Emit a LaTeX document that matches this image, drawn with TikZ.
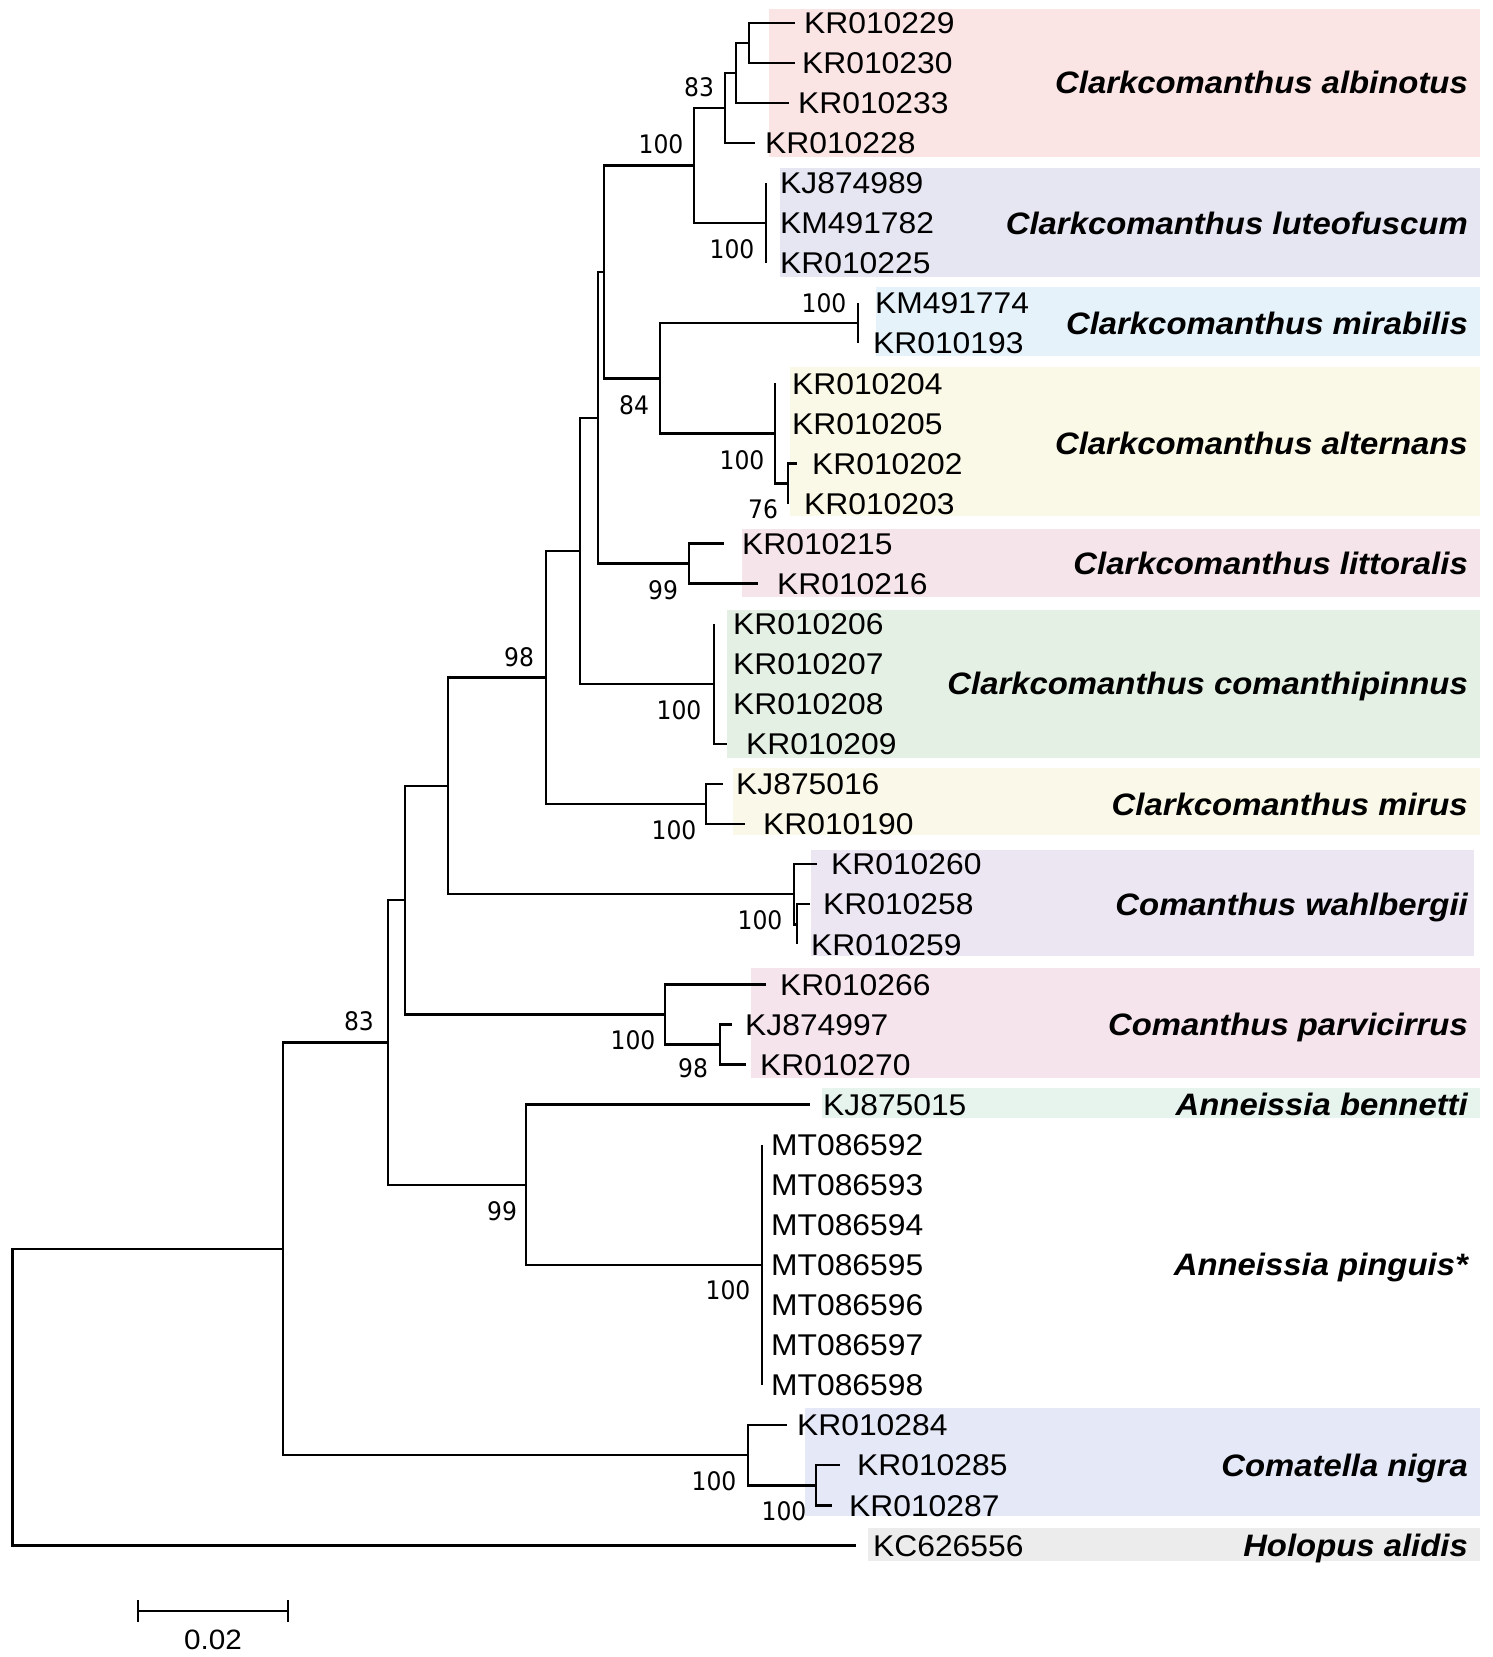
\documentclass[tikz,border=0pt]{standalone}
\usepackage{fontspec}
\setmainfont{Liberation Sans}
\newfontfamily\leaffont[FakeStretch=1.06]{Liberation Sans}
\newfontfamily\supfont[FakeStretch=0.92]{DejaVu Sans}
\definecolor{bgA}{RGB}{250,228,228}
\definecolor{bgB}{RGB}{229,230,242}
\definecolor{bgC}{RGB}{229,242,250}
\definecolor{bgD}{RGB}{250,248,230}
\definecolor{bgE}{RGB}{245,228,234}
\definecolor{bgF}{RGB}{229,240,229}
\definecolor{bgG}{RGB}{250,248,232}
\definecolor{bgH}{RGB}{236,230,243}
\definecolor{bgI}{RGB}{246,228,237}
\definecolor{bgJ}{RGB}{230,244,237}
\definecolor{bgK}{RGB}{229,232,246}
\definecolor{bgL}{RGB}{236,236,236}
\tikzset{
  br/.style={line width=2.4pt, line join=miter},
  leaf/.style={anchor=base west, inner sep=0pt, font=\leaffont\fontsize{30}{30}\selectfont},
  sp/.style={anchor=base east, inner sep=0pt, font=\leaffont\bfseries\itshape\fontsize{31}{31}\selectfont},
  sup/.style={inner sep=0pt, font=\supfont\fontsize{25.5}{25.5}\selectfont},
}
\begin{document}
\begin{tikzpicture}[x=1pt,y=-1pt]
\useasboundingbox[fill=white] (0,0) rectangle (1493,1657);
% background boxes
\fill[bgA] (769,9) rectangle (1480,157);
\fill[bgB] (780,168) rectangle (1480,277);
\fill[bgC] (876,287) rectangle (1480,356);
\fill[bgD] (790,367) rectangle (1480,516);
\fill[bgE] (742,529) rectangle (1480,597);
\fill[bgF] (727,610) rectangle (1480,758);
\fill[bgG] (733,768) rectangle (1480,835);
\fill[bgH] (811,850) rectangle (1474,956);
\fill[bgI] (751,968) rectangle (1480,1078);
\fill[bgJ] (822,1088) rectangle (1480,1118);
\fill[bgK] (805,1408) rectangle (1480,1516);
\fill[bgL] (868,1528) rectangle (1480,1561);
% leaves
\foreach \r/\tx/\lx/\nm in {
 0/795/804/KR010229, 1/795/802/KR010230, 2/789/798/KR010233, 3/755/765/KR010228,
 4/766/780/KJ874989, 5/766/780/KM491782, 6/766/780/KR010225,
 7/858/875/KM491774, 8/858/873/KR010193,
 9/775/792/KR010204, 10/775/792/KR010205, 11/797/812/KR010202, 12/788/804/KR010203,
 13/724/742/KR010215, 14/758/777/KR010216,
 15/714/733/KR010206, 16/714/733/KR010207, 17/714/733/KR010208, 18/727/746/KR010209,
 19/723/736/KJ875016, 20/745/763/KR010190,
 21/817/831/KR010260, 22/810/823/KR010258, 23/797/811/KR010259,
 24/766/780/KR010266, 25/732/745/KJ874997, 26/746/760/KR010270,
 27/810/823/KJ875015,
 28/762/771/MT086592, 29/762/771/MT086593, 30/762/771/MT086594, 31/762/771/MT086595,
 32/762/771/MT086596, 33/762/771/MT086597, 34/762/771/MT086598,
 35/787/797/KR010284, 36/840/857/KR010285, 37/832/849/KR010287,
 38/856/873/KC626556}
{
  \coordinate (t\r) at (\tx, {22.7+40.07*\r});
  \node[leaf] (l\r) at (\lx, {22.7+40.07*\r+10.7}) {\nm};
}
% internal nodes
\coordinate (M)  at (749, 42.7);
\coordinate (L)  at (736, 72.8);
\coordinate (K)  at (725, 107.9);
\coordinate (Lu) at (766, 223.1);
\coordinate (J)  at (694, 165.5);
\coordinate (Mi) at (858, 323.2);
\coordinate (S76) at (788, 483.5);
\coordinate (Al) at (775, 433.4);
\coordinate (O)  at (660, 378.3);
\coordinate (N)  at (604, 271.9);
\coordinate (Li) at (689, 563.6);
\coordinate (P)  at (598, 417.8);
\coordinate (Co) at (714, 683.9);
\coordinate (G)  at (580, 550.8);
\coordinate (Mu) at (706, 804.0);
\coordinate (F)  at (546, 677.4);
\coordinate (Ws) at (797, 924.3);
\coordinate (W)  at (794, 894.2);
\coordinate (E)  at (448, 785.8);
\coordinate (Ps) at (720, 1044.5);
\coordinate (Pa) at (665, 1014.4);
\coordinate (C)  at (405, 900.1);
\coordinate (Pi) at (762, 1264.9);
\coordinate (D)  at (526, 1184.7);
\coordinate (B)  at (388, 1042.4);
\coordinate (Ns) at (816, 1485.3);
\coordinate (Cm) at (748, 1455.2);
\coordinate (A)  at (283, 1248.8);
\coordinate (R)  at (12.5, 1397.1);
% branches
\foreach \p/\c in {M/t0, M/t1, L/M, L/t2, K/L, K/t3,
  Lu/t4, Lu/t5, Lu/t6, J/K, J/Lu,
  Mi/t7, Mi/t8, S76/t11, S76/t12, Al/t9, Al/t10, Al/S76, O/Mi, O/Al, N/J, N/O,
  Li/t13, Li/t14, P/N, P/Li,
  Co/t15, Co/t16, Co/t17, Co/t18, G/P, G/Co,
  Mu/t19, Mu/t20, F/G, F/Mu,
  Ws/t22, Ws/t23, W/t21, W/Ws, E/F, E/W,
  Ps/t25, Ps/t26, Pa/t24, Pa/Ps, C/E, C/Pa,
  Pi/t28, Pi/t29, Pi/t30, Pi/t31, Pi/t32, Pi/t33, Pi/t34, D/t27, D/Pi, B/C, B/D,
  Ns/t36, Ns/t37, Cm/t35, Cm/Ns, A/B, A/Cm, R/A, R/t38}
{
  \draw[br] (\p) |- (\c);
}
% support values
\node[sup] (s1)  at (699, 87)   {83};
\node[sup] (s2)  at (661, 144)  {100};
\node[sup] (s3)  at (732, 249)  {100};
\node[sup] (s4)  at (824, 303)  {100};
\node[sup] (s5)  at (634, 405)  {84};
\node[sup] (s6)  at (742, 460)  {100};
\node[sup] (s7)  at (763, 509)  {76};
\node[sup] (s8)  at (663, 590)  {99};
\node[sup] (s9)  at (519, 657)  {98};
\node[sup] (s10) at (679, 710)  {100};
\node[sup] (s11) at (674, 830)  {100};
\node[sup] (s12) at (760, 920)  {100};
\node[sup] (s13) at (633, 1040) {100};
\node[sup] (s14) at (693, 1068) {98};
\node[sup] (s15) at (359, 1021) {83};
\node[sup] (s16) at (502, 1211) {99};
\node[sup] (s17) at (728, 1290) {100};
\node[sup] (s18) at (714, 1481) {100};
\node[sup] (s19) at (784, 1511) {100};
% species names
\foreach \y/\nm/\k in {82.8/Clarkcomanthus albinotus/1, 223.1/Clarkcomanthus luteofuscum/2,
  323.2/Clarkcomanthus mirabilis/3, 443.4/Clarkcomanthus alternans/4,
  563.6/Clarkcomanthus littoralis/5, 683.9/Clarkcomanthus comanthipinnus/6,
  804.0/Clarkcomanthus mirus/7, 904.2/Comanthus wahlbergii/8,
  1024.5/Comanthus parvicirrus/9, 1104.6/Anneissia bennetti/10,
  1264.9/Anneissia pinguis*/11, 1465.2/Comatella nigra/12, 1545.4/Holopus alidis/13}
{
  \node[sp] (sp\k) at (1468, {\y+11}) {\nm};
}
% scale bar
\coordinate (sb1) at (138,1611);
\coordinate (sb2) at (288,1611);
\draw[line width=2pt] (sb1) -- (sb2);
\draw[line width=2pt] ([yshift=-11pt]sb1) -- ([yshift=11pt]sb1);
\draw[line width=2pt] ([yshift=-11pt]sb2) -- ([yshift=11pt]sb2);
\node[inner sep=0pt, font=\leaffont\fontsize{28}{28}\selectfont] (sbl) at (213,1640) {0.02};
\end{tikzpicture}
\end{document}
